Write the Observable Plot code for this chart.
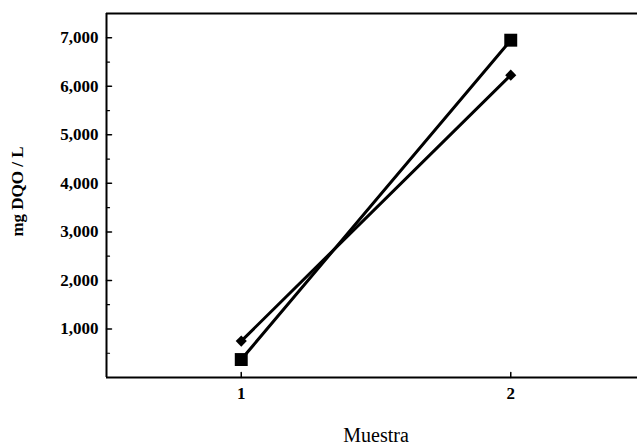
<!DOCTYPE html>
<html>
<head>
<meta charset="utf-8">
<script src="https://cdn.jsdelivr.net/npm/d3@7"></script>
<script src="https://cdn.jsdelivr.net/npm/@observablehq/plot@0.6"></script>
<style>
  html, body { margin: 0; padding: 0; background: #fff; overflow: hidden; }
  #chart { width: 637px; height: 447px; overflow: hidden; }
  #chart svg { max-width: none !important; }
</style>
</head>
<body>
<div id="chart"></div>
<script>
// Data
const muestras = [1, 2];
const serieRombo = [750, 6230];     // diamond markers
const serieCuadro = [370, 6950];    // square markers
const xTicks = [1, 2];
const yTicks = [1000, 2000, 3000, 4000, 5000, 6000, 7000];
const yMinorTicks = [500, 1500, 2500, 3500, 4500, 5500, 6500, 7500];
const xLimits = [0.5, 2.5];
const yLimits = [0, 7500];
const xLabel = "Muestra";
const yLabel = "mg DQO / L";

const rombo = muestras.map((m, i) => ({muestra: m, valor: serieRombo[i]}));
const cuadro = muestras.map((m, i) => ({muestra: m, valor: serieCuadro[i]}));

const fmt = d3.format(",");
const tickShape = {draw(context, l) { context.moveTo(0, 0); context.lineTo(0, -l); }};

// The plot area continues past the right edge of the picture (x = 2.5 lies off-canvas)
const chart = Plot.plot({
  width: 645,
  height: 447,
  marginLeft: 106,
  marginRight: 0,
  marginTop: 13,
  marginBottom: 70,
  style: {fontFamily: "'Liberation Serif', 'DejaVu Serif', serif", fontSize: "16px", color: "#000", background: "#fff", maxWidth: "none"},
  x: {domain: xLimits, axis: null},
  y: {domain: yLimits, axis: null},
  marks: [
    // frame (right side falls outside the picture)
    Plot.ruleY([yLimits[0]], {x1: xLimits[0], x2: xLimits[1], stroke: "#000", strokeWidth: 2}),
    Plot.ruleY([yLimits[1]], {x1: xLimits[0], x2: xLimits[1], stroke: "#000", strokeWidth: 2}),
    Plot.ruleX([xLimits[0]], {y1: yLimits[0], y2: yLimits[1], stroke: "#000", strokeWidth: 2}),
    // y axis labels
    Plot.text(yTicks, {x: xLimits[0], y: d => d, text: d => fmt(d), textAnchor: "end", dx: -8, fontWeight: "bold", fontSize: 17, fill: "#000"}),
    // inward y ticks
    Plot.vector(yTicks, {x: xLimits[0], y: d => d, rotate: 90, length: 5, anchor: "start", shape: tickShape, stroke: "#000", strokeWidth: 1.5}),
    Plot.vector(yMinorTicks, {x: xLimits[0], y: d => d, rotate: 90, length: 3, anchor: "start", shape: tickShape, stroke: "#000", strokeWidth: 1.2}),
    // x axis labels
    Plot.text(xTicks, {x: d => d, y: yLimits[0], text: d => String(d), lineAnchor: "top", dy: 9, fontWeight: "bold", fontSize: 17, fill: "#000"}),
    // inward x ticks
    Plot.vector(xTicks, {x: d => d, y: yLimits[0], rotate: 0, length: 5, anchor: "start", shape: tickShape, stroke: "#000", strokeWidth: 1.5}),
    // series
    Plot.line(cuadro, {x: "muestra", y: "valor", stroke: "#000", strokeWidth: 3}),
    Plot.line(rombo, {x: "muestra", y: "valor", stroke: "#000", strokeWidth: 3}),
    Plot.dot(cuadro, {x: "muestra", y: "valor", symbol: "square", r: 7.3, fill: "#000", stroke: "none"}),
    Plot.dot(rombo, {x: "muestra", y: "valor", symbol: "diamond2", r: 5, fill: "#000", stroke: "none"}),
    // axis titles
    Plot.text([xLabel], {x: d3.mean(xTicks), frameAnchor: "bottom", dy: 58, lineAnchor: "middle", textAnchor: "middle", fontSize: 20, fill: "#000"}),
    Plot.text([yLabel], {frameAnchor: "left", dx: -89, dy: -4, rotate: -90, lineAnchor: "middle", textAnchor: "middle", fontSize: 17, fontWeight: "bold", fill: "#000"})
  ]
});

document.getElementById("chart").appendChild(chart);
</script>
</body>
</html>
